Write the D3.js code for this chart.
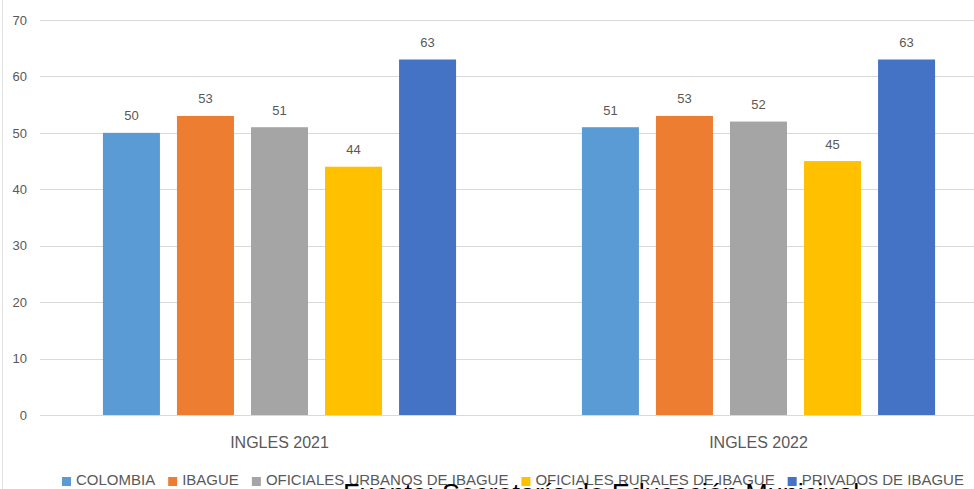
<!DOCTYPE html>
<html>
<head>
<meta charset="utf-8">
<script src="https://cdn.jsdelivr.net/npm/d3@7"></script>
<style>
    body { margin: 0; background: #fff; overflow: hidden; }
    svg { display: block; font-family: "Liberation Sans", Arial, sans-serif; }
</style>
</head>
<body>
<svg id="chart" width="974" height="489"></svg>
<script>
    // data
    var categories = ["INGLES 2021", "INGLES 2022"];
    var series = ["COLOMBIA", "IBAGUE", "OFICIALES URBANOS DE IBAGUE", "OFICIALES RURALES DE IBAGUE", "PRIVADOS DE IBAGUE"];
    var colombia = [50, 51];
    var ibague = [53, 53];
    var urbanos = [51, 52];
    var rurales = [44, 45];
    var privados = [63, 63];
    var colors = ["#5B9BD5", "#ED7D31", "#A5A5A5", "#FFC000", "#4472C4"];
    var yTicks = [0, 10, 20, 30, 40, 50, 60, 70];
    var source = "Fuente: Secretaría de Educación Municipal";

    var values = [colombia, ibague, urbanos, rurales, privados];

    var svg = d3.select("#chart");
    var textColor = "#595959";

    var margin = { top: 20, left: 40 };
    var height = 395;          // 0 -> 415, 70 -> 20
    var plotWidth = 958;       // runs past the right edge, as in the picture

    var chart = svg.append("g")
        .attr("transform", "translate(" + margin.left + "," + margin.top + ")");

    var y = d3.scaleLinear().domain([0, 70]).range([height, 0]);
    var x0 = d3.scaleBand().domain(categories).range([0, plotWidth]);
    var x1 = d3.scaleBand().domain(series).range([0, x0.bandwidth()])
        .paddingInner(0.23)
        .paddingOuter(0.85);

    // outer chart border on the left
    svg.append("line")
        .attr("x1", 2.5).attr("x2", 2.5)
        .attr("y1", 0).attr("y2", 489)
        .attr("stroke", "#e3e3e3");

    // gridlines
    chart.append("g")
        .selectAll("line")
        .data(yTicks)
        .enter()
        .append("line")
        .attr("x1", 0)
        .attr("x2", plotWidth)
        .attr("y1", function(d){ return Math.round(y(d)) + 0.5; })
        .attr("y2", function(d){ return Math.round(y(d)) + 0.5; })
        .attr("stroke", "#d9d9d9")
        .attr("stroke-width", 1);

    // y axis labels
    var yAxis = d3.axisLeft(y).tickValues(yTicks).tickSize(0).tickPadding(13);
    var ya = chart.append("g").call(yAxis);
    ya.select(".domain").remove();
    ya.selectAll("text")
        .attr("fill", textColor)
        .style("font-size", "13px")
        .style("font-family", "'Liberation Sans', Arial, sans-serif");

    // bars
    var groups = chart.selectAll(".group")
        .data(categories)
        .enter()
        .append("g")
        .classed("group", true)
        .attr("transform", function(d){ return "translate(" + x0(d) + ",0)"; });

    groups.selectAll(".bar")
        .data(function(d, i){
            return series.map(function(s, j){ return { s: s, v: values[j][i], j: j }; });
        })
        .enter()
        .append("rect")
        .classed("bar", true)
        .attr("x", function(d){ return x1(d.s); })
        .attr("y", function(d){ return y(d.v); })
        .attr("width", x1.bandwidth())
        .attr("height", function(d){ return height - y(d.v); })
        .attr("fill", function(d){ return colors[d.j]; });

    groups.selectAll(".bar-label")
        .data(function(d, i){
            return series.map(function(s, j){ return { s: s, v: values[j][i] }; });
        })
        .enter()
        .append("text")
        .classed("bar-label", true)
        .attr("x", function(d){ return x1(d.s) + x1.bandwidth() / 2; })
        .attr("y", function(d){ return y(d.v) - 12.5; })
        .attr("text-anchor", "middle")
        .attr("fill", textColor)
        .style("font-size", "13px")
        .text(function(d){ return d.v; });

    // category labels
    chart.selectAll(".cat-label")
        .data(categories)
        .enter()
        .append("text")
        .attr("x", function(d){ return x0(d) + x0.bandwidth() / 2; })
        .attr("y", height + 33)
        .attr("text-anchor", "middle")
        .attr("fill", textColor)
        .style("font-size", "16px")
        .text(function(d){ return d; });

    // legend
    var legend = svg.append("g").attr("transform", "translate(62,0)");
    var lx = 0;
    series.forEach(function(s, i){
        legend.append("rect")
            .attr("x", lx).attr("y", 477)
            .attr("width", 9).attr("height", 9)
            .attr("fill", colors[i]);
        var t = legend.append("text")
            .attr("x", lx + 14)
            .attr("y", 485)
            .attr("fill", textColor)
            .style("font-size", "15px")
            .text(s);
        lx += 14 + t.node().getComputedTextLength() + 13;
    });

    // source note, cut off by the bottom edge
    svg.append("text")
        .attr("x", 343)
        .attr("y", 503)
        .attr("fill", "#000")
        .style("font-size", "27px")
        .text(source);
</script>
</body>
</html>
